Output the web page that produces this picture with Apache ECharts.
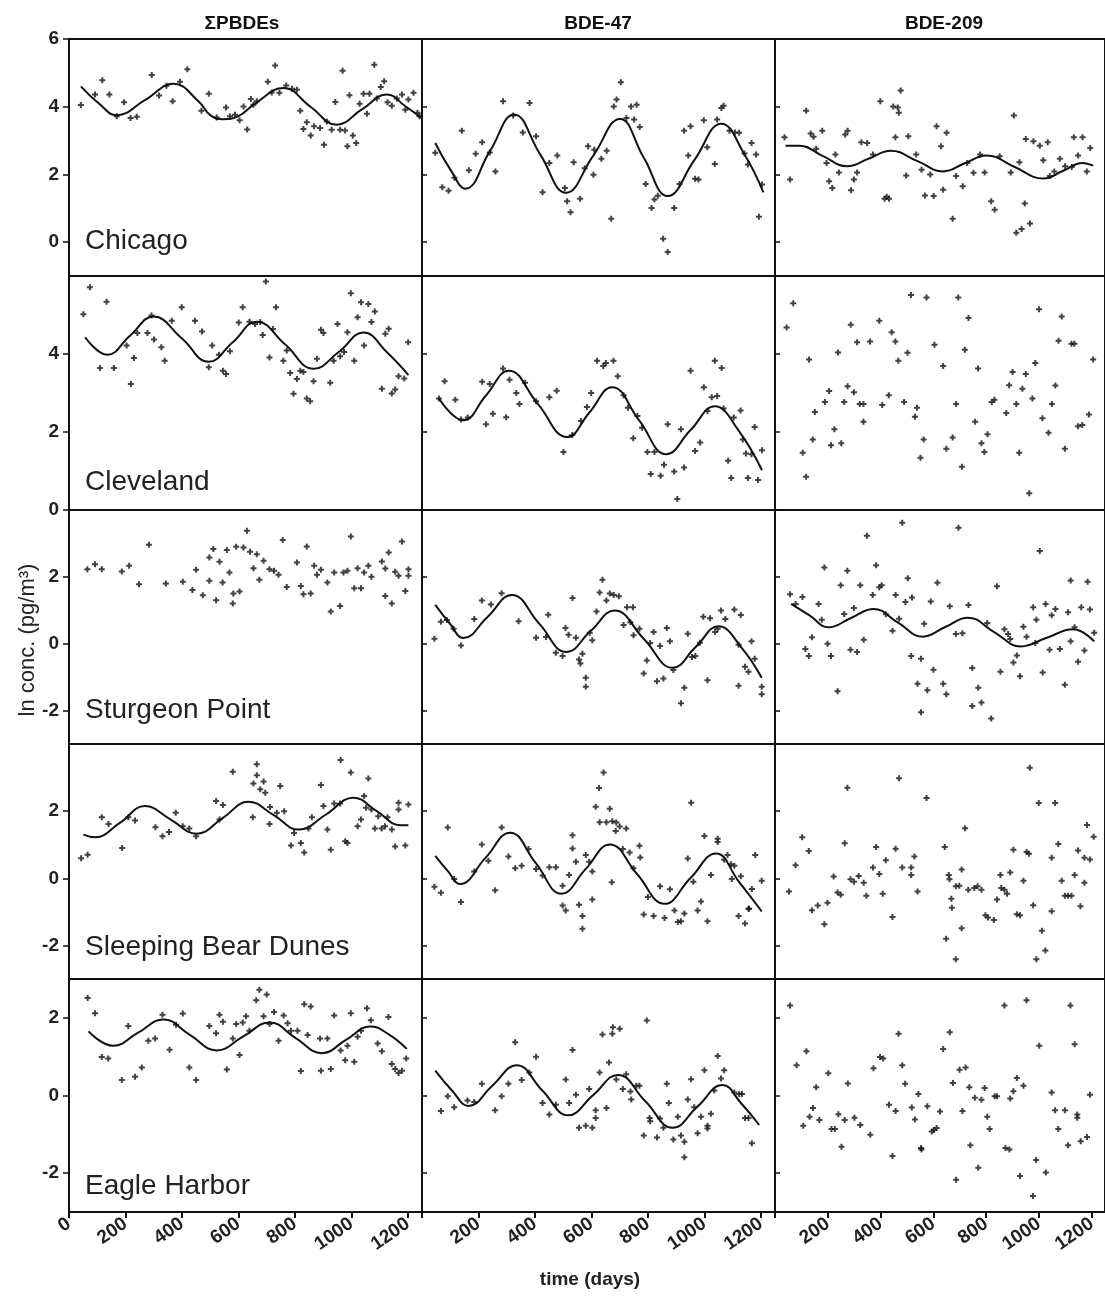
<!DOCTYPE html>
<html>
<head>
<meta charset="utf-8">
<script src="https://cdn.jsdelivr.net/npm/echarts@6/dist/echarts.min.js"></script>
<style>
  html, body { margin: 0; padding: 0; background: #fff; }
  #chart { width: 1105px; height: 1296px; }
</style>
</head>
<body>
<div id="chart"></div>
<script>
// panel titles
const compounds = ['ΣPBDEs', 'BDE-47', 'BDE-209']
const stations = ['Chicago', 'Cleveland', 'Sturgeon Point', 'Sleeping Bear Dunes', 'Eagle Harbor']

// axis ranges and ticks
const yMin = [-1, 0, -3, -3, -3]
const yMax = [6, 6, 4, 4, 3]
const yTicks = [[0, 2, 4, 6], [0, 2, 4], [-2, 0, 2], [-2, 0, 2], [-2, 0, 2]]
const xTicksFirst = [0, 200, 400, 600, 800, 1000, 1200]
const xTicksOther = [200, 400, 600, 800, 1000, 1200]

// ---- Chicago ----
const chiPbde = [[42,4.05],[92,4.36],[118,4.78],[143,4.36],[169,3.72],[195,4.13],[218,3.67],[240,3.7],[293,4.94],[319,4.33],[345,4.62],[367,4.16],[393,4.74],[419,5.11],[469,3.88],[495,4.38],[523,3.68],[556,3.98],[570,3.72],[588,3.76],[604,3.6],[618,4.01],[631,3.33],[644,4.23],[653,4.06],[665,4.16],[704,4.74],[718,4.42],[730,5.22],[745,4.41],[769,4.63],[790,4.53],[807,4.5],[819,3.88],[830,3.34],[842,3.54],[856,3.15],[868,3.42],[889,3.37],[903,2.88],[913,3.56],[930,3.32],[943,4.14],[960,3.32],[969,5.06],[978,3.3],[986,2.83],[993,4.34],[1005,3.15],[1017,2.93],[1029,4.09],[1043,4.38],[1055,3.79],[1064,4.38],[1081,5.24],[1090,4.24],[1104,4.58],[1116,4.75],[1128,4.13],[1143,4.03],[1161,4.24],[1179,4.36],[1191,3.91],[1202,4.21],[1220,4.41],[1234,3.82],[1241,3.72]]
const chiPbdeFit = [[42,4.6],[105,4.1],[169,3.75],[270,4.2],[370,4.68],[460,4.15],[500,3.75],[545,3.63],[600,3.72],[660,4.1],[760,4.55],[855,4.0],[948,3.47],[1037,3.92],[1126,4.36],[1190,4.02],[1246,3.68]]
const chi47 = [[47,2.64],[72,1.62],[94,1.52],[115,1.9],[141,3.29],[166,2.12],[190,2.61],[213,2.95],[240,2.65],[260,2.09],[287,4.16],[323,3.74],[357,3.24],[381,4.11],[404,3.13],[427,1.47],[451,2.34],[479,2.56],[506,1.6],[514,1.21],[526,0.88],[537,2.36],[560,1.28],[576,2.18],[588,2.83],[607,1.99],[610,2.73],[635,2.46],[654,2.7],[670,0.69],[679,4.01],[689,4.21],[704,4.72],[724,3.67],[740,4.01],[751,3.62],[760,4.06],[771,3.4],[792,1.72],[813,1.01],[823,1.26],[835,1.37],[854,0.1],[870,-0.29],[893,1.01],[912,1.72],[928,3.29],[943,2.56],[951,3.42],[967,1.87],[979,1.85],[998,3.6],[1010,2.8],[1037,2.31],[1045,3.62],[1060,3.96],[1068,4.03],[1089,3.29],[1108,3.24],[1123,3.23],[1142,2.62],[1154,2.29],[1167,2.93],[1183,2.59],[1193,0.75],[1204,1.7]]
const chi47Fit = [[47,2.93],[100,2.15],[154,1.58],[240,2.68],[326,3.77],[418,2.6],[510,1.46],[606,2.55],[701,3.64],[785,2.5],[870,1.36],[965,2.43],[1060,3.5],[1142,2.59],[1209,1.47]]
const chi209 = [[36,3.1],[57,1.85],[118,3.88],[135,3.21],[146,3.11],[156,2.76],[179,3.29],[195,2.34],[205,1.8],[217,1.6],[229,2.59],[242,2.06],[266,3.18],[275,3.29],[288,1.53],[299,1.85],[311,2.06],[327,2.95],[349,2.93],[371,2.59],[399,4.16],[415,1.28],[423,1.34],[432,1.28],[448,4.01],[456,3.1],[465,3.98],[469,3.82],[476,4.48],[497,1.97],[505,3.13],[535,2.59],[555,2.14],[568,1.38],[588,2.0],[601,1.36],[612,3.42],[629,2.83],[637,1.55],[650,3.23],[673,0.69],[686,1.95],[711,1.65],[728,2.34],[752,2.05],[777,2.59],[794,2.06],[819,1.21],[832,0.96],[851,2.54],[893,2.06],[905,3.74],[914,0.28],[926,2.36],[934,0.39],[946,1.14],[950,3.05],[966,0.55],[979,2.98],[1003,2.85],[1016,2.42],[1033,2.95],[1041,1.95],[1058,2.09],[1079,2.46],[1099,2.24],[1124,2.22],[1132,3.1],[1148,2.56],[1165,3.1],[1181,2.09],[1194,2.78]]
const chi209Fit = [[40,2.85],[93,2.85],[180,2.55],[274,2.24],[356,2.47],[439,2.7],[538,2.4],[637,2.09],[719,2.33],[801,2.56],[908,2.22],[1016,1.88],[1090,2.1],[1165,2.34],[1205,2.26]]

// ---- Cleveland ----
const clePbde = [[51,5.02],[74,5.71],[110,3.64],[133,5.34],[159,3.64],[204,4.22],[219,3.23],[230,3.9],[242,4.54],[278,4.54],[292,4.99],[301,4.37],[327,4.17],[339,3.83],[364,4.85],[399,5.2],[446,4.85],[471,4.58],[495,3.66],[507,4.22],[531,3.98],[545,3.57],[556,3.49],[570,4.07],[601,4.81],[615,5.2],[639,4.83],[659,4.77],[677,4.82],[686,4.49],[697,5.86],[710,3.91],[722,4.64],[733,5.2],[759,3.83],[771,4.09],[783,3.51],[795,2.98],[807,3.36],[819,3.57],[830,3.54],[842,2.86],[854,2.79],[866,3.3],[878,3.88],[892,4.62],[901,4.54],[925,3.26],[937,3.83],[951,4.77],[960,3.94],[974,4.05],[986,4.56],[998,5.56],[1010,3.83],[1022,4.94],[1034,5.33],[1045,4.22],[1060,5.28],[1071,4.82],[1083,5.09],[1108,3.11],[1120,4.52],[1132,4.65],[1143,2.99],[1155,3.09],[1167,3.43],[1187,3.37],[1201,4.3]]
const clePbdeFit = [[57,4.43],[136,3.98],[216,4.47],[299,4.96],[400,4.4],[494,3.8],[580,4.3],[665,4.83],[765,4.25],[866,3.62],[955,4.05],[1043,4.55],[1125,4.05],[1202,3.46]]
const cle47 = [[60,2.86],[80,3.3],[118,2.83],[138,2.32],[162,2.37],[213,3.29],[227,2.2],[240,3.23],[251,2.47],[287,3.63],[298,2.38],[310,3.34],[334,3.0],[345,2.72],[365,3.26],[404,2.79],[451,2.89],[477,3.06],[501,1.49],[532,1.92],[563,2.28],[584,2.64],[599,3.0],[620,3.83],[642,3.69],[651,3.77],[678,3.83],[693,3.43],[714,2.94],[729,2.62],[748,1.84],[763,2.41],[779,2.11],[798,1.49],[810,0.92],[823,1.49],[845,0.88],[857,1.16],[870,2.2],[893,0.99],[904,0.28],[917,2.07],[928,1.09],[951,3.57],[967,1.51],[985,1.73],[998,3.15],[1011,2.54],[1026,2.89],[1037,3.83],[1045,2.92],[1061,3.64],[1068,2.6],[1084,1.26],[1095,0.82],[1104,2.37],[1128,2.55],[1136,1.81],[1147,1.45],[1154,0.82],[1167,1.43],[1178,2.13],[1190,0.77],[1204,1.53]]
const cle47Fit = [[60,2.86],[146,2.3],[226,2.93],[307,3.57],[410,2.72],[514,1.87],[593,2.5],[673,3.15],[769,2.3],[865,1.43],[951,2.05],[1037,2.66],[1120,2.05],[1204,1.02]]
const cle209 = [[44,4.68],[69,5.3],[105,1.47],[118,0.85],[129,3.86],[143,1.81],[151,2.51],[189,2.77],[205,3.05],[212,1.66],[225,2.07],[239,4.04],[251,1.71],[262,2.77],[275,3.17],[287,4.75],[299,3.02],[311,4.3],[321,2.72],[335,2.72],[335,2.26],[360,4.32],[395,4.85],[406,2.69],[431,2.94],[442,4.56],[456,4.32],[467,3.83],[489,2.77],[502,4.03],[515,5.51],[530,2.39],[538,2.62],[551,1.34],[563,1.81],[574,5.45],[604,4.24],[637,3.69],[649,1.57],[673,1.86],[686,2.72],[694,5.45],[708,1.11],[719,4.11],[733,4.92],[758,2.26],[769,3.63],[782,1.71],[793,1.49],[805,1.94],[821,2.77],[831,2.83],[876,2.49],[887,3.2],[900,3.54],[914,2.72],[925,1.47],[937,3.11],[950,3.49],[963,0.43],[975,2.86],[986,3.77],[1000,5.15],[1013,2.35],[1036,1.98],[1049,2.72],[1062,3.19],[1074,4.34],[1086,4.96],[1098,1.57],[1123,4.26],[1134,4.26],[1148,2.15],[1164,2.18],[1189,2.45],[1205,3.86]]

// ---- Sturgeon Point ----
const stuPbde = [[65,2.23],[92,2.38],[116,2.23],[187,2.16],[213,2.33],[248,1.78],[283,2.96],[343,1.8],[403,1.85],[437,1.61],[450,2.21],[474,1.45],[497,2.58],[497,1.88],[511,2.83],[521,1.3],[533,2.45],[544,1.83],[559,2.8],[568,2.13],[580,1.2],[582,1.5],[592,2.9],[604,1.56],[618,2.88],[630,3.38],[641,2.75],[653,2.26],[665,2.68],[674,1.91],[689,2.48],[710,2.23],[726,2.18],[742,2.06],[757,3.1],[771,1.7],[807,2.43],[821,1.73],[830,1.48],[842,2.91],[856,1.5],[868,2.33],[878,2.06],[892,2.21],[915,1.83],[927,0.96],[939,2.13],[960,1.13],[972,2.13],[986,2.18],[998,3.21],[1010,1.66],[1022,2.26],[1034,1.66],[1045,2.13],[1060,2.33],[1071,2.0],[1108,2.46],[1120,2.25],[1120,1.43],[1132,2.73],[1143,1.2],[1155,2.15],[1167,2.03],[1179,3.06],[1191,1.58],[1202,2.23],[1202,2.03]]
const stu47 = [[44,0.15],[67,0.66],[88,0.71],[112,0.45],[138,-0.05],[185,0.74],[212,1.29],[244,1.17],[282,1.51],[342,0.67],[404,0.18],[439,0.2],[447,0.87],[474,-0.27],[498,-0.37],[508,0.47],[519,0.27],[533,1.37],[545,0.18],[556,-0.47],[561,-0.59],[568,-0.3],[580,-1.02],[580,-1.29],[594,0.33],[603,0.1],[618,0.96],[629,1.53],[639,1.91],[653,1.29],[665,1.5],[679,1.46],[697,1.42],[714,0.56],[726,1.09],[738,0.64],[747,1.09],[749,0.25],[770,0.45],[785,-0.89],[796,-0.5],[808,0.02],[820,0.35],[832,-1.12],[843,-0.07],[855,-1.04],[867,0.47],[878,0.07],[890,-0.79],[917,-1.78],[929,-1.32],[941,0.3],[956,-0.4],[968,-0.37],[984,0.03],[996,0.81],[1011,-1.09],[1020,0.76],[1038,0.35],[1047,0.45],[1059,0.99],[1074,0.74],[1106,1.02],[1121,-0.03],[1121,-1.26],[1129,0.86],[1144,-0.69],[1156,-0.84],[1167,0.07],[1178,-0.45],[1203,-1.29],[1203,-1.51]]
const stu47Fit = [[47,1.16],[97,0.62],[147,0.17],[232,0.8],[318,1.46],[415,0.6],[512,-0.25],[597,0.38],[682,0.99],[785,0.15],[888,-0.72],[969,-0.1],[1050,0.52],[1130,-0.1],[1203,-1.02]]
const stu209 = [[57,1.48],[78,1.19],[104,1.4],[115,-0.16],[128,-0.37],[140,0.19],[165,1.19],[177,0.72],[187,2.28],[199,0.0],[212,-0.37],[237,-1.42],[249,1.75],[262,0.89],[274,2.18],[286,-0.18],[299,1.07],[311,-0.25],[323,1.75],[336,0.12],[348,3.23],[370,1.46],[383,2.35],[395,1.69],[404,1.75],[420,0.88],[445,0.39],[457,1.46],[470,0.75],[482,3.62],[494,1.25],[503,1.96],[516,-0.37],[519,1.38],[540,-1.2],[553,-0.45],[553,-2.05],[565,0.6],[577,-1.39],[590,1.26],[600,-0.78],[615,1.82],[637,-1.2],[649,-1.51],[662,1.12],[685,0.29],[695,3.47],[710,0.31],[733,1.16],[747,-0.73],[747,-1.86],[770,-1.32],[782,-1.76],[804,0.62],[819,-2.24],[841,1.72],[854,-0.84],[869,0.43],[883,0.29],[891,0.14],[903,-0.56],[916,-0.35],[928,-0.97],[941,0.51],[953,0.21],[978,1.09],[986,0.02],[990,0.72],[1003,2.77],[1014,-0.86],[1025,1.19],[1040,-0.18],[1048,0.85],[1062,1.04],[1079,-0.16],[1098,-1.23],[1110,0.94],[1120,1.89],[1120,0.07],[1135,0.49],[1148,-0.54],[1160,1.09],[1172,-0.2],[1184,1.85],[1193,1.02],[1209,0.33]]
const stu209Fit = [[61,1.19],[132,0.84],[202,0.49],[288,0.77],[373,1.04],[466,0.63],[559,0.21],[645,0.5],[730,0.78],[830,0.35],[931,-0.08],[1030,0.18],[1129,0.43],[1209,0.07]]

// ---- Sleeping Bear Dunes ----
const slePbde = [[43,0.6],[66,0.7],[116,1.82],[140,1.62],[188,0.9],[210,1.82],[234,1.72],[306,1.52],[331,1.25],[354,1.38],[378,1.95],[403,1.55],[426,1.48],[450,1.25],[521,2.3],[533,1.75],[545,2.18],[580,3.17],[651,1.82],[653,2.82],[665,3.4],[665,3.07],[677,2.65],[689,2.88],[695,2.55],[710,1.62],[712,2.12],[736,1.95],[748,2.75],[762,2.0],[786,0.98],[797,1.35],[821,1.05],[833,0.77],[848,1.48],[860,1.82],[892,2.78],[901,2.15],[915,1.45],[927,0.85],[939,2.23],[960,2.23],[962,3.52],[978,1.1],[986,1.05],[998,3.15],[1022,1.55],[1034,1.75],[1045,2.45],[1052,2.1],[1060,2.97],[1071,2.05],[1083,1.48],[1095,1.85],[1107,1.48],[1119,1.55],[1128,1.82],[1143,1.45],[1155,0.95],[1167,2.25],[1167,2.05],[1191,0.98],[1202,2.2]]
const slePbdeFit = [[51,1.3],[92,1.22],[180,1.65],[269,2.15],[360,1.75],[452,1.33],[545,1.8],[635,2.28],[725,1.88],[813,1.45],[910,1.9],[1007,2.4],[1090,2.0],[1173,1.58],[1202,1.58]]
const sle47 = [[44,-0.25],[67,-0.43],[91,1.51],[114,-0.02],[138,-0.71],[185,0.2],[212,1.01],[235,0.52],[259,-0.36],[282,1.51],[306,0.65],[330,0.3],[353,0.37],[377,0.87],[404,0.28],[427,0.08],[451,0.33],[474,0.33],[498,-0.22],[498,-0.81],[509,-0.96],[521,0.1],[533,1.28],[533,0.89],[545,0.49],[556,-0.79],[568,-1.12],[568,-1.5],[580,0.69],[592,0.49],[603,0.2],[603,-0.63],[615,2.13],[627,2.69],[629,1.67],[643,3.15],[653,1.67],[665,2.07],[672,-0.12],[674,1.7],[686,1.41],[688,1.66],[700,1.54],[711,0.87],[723,1.48],[735,0.77],[749,0.3],[770,0.97],[773,0.62],[785,-1.08],[800,-0.56],[820,-1.12],[843,-0.24],[859,-1.18],[878,-0.33],[894,-0.96],[906,-1.3],[917,-1.28],[929,-1.05],[941,0.59],[953,2.25],[961,-0.1],[976,-0.96],[988,-0.69],[1000,1.26],[1011,-1.28],[1023,0.1],[1047,1.18],[1047,1.08],[1070,0.55],[1082,0.69],[1094,0.42],[1097,-0.02],[1106,0.37],[1121,-1.12],[1129,0.06],[1144,-1.35],[1156,-0.91],[1158,-0.91],[1168,-0.32],[1180,0.69],[1203,-0.07]]
const sle47Fit = [[47,0.67],[91,0.22],[135,-0.17],[224,0.6],[312,1.36],[403,0.45],[494,-0.46],[580,0.28],[665,1.01],[762,0.12],[859,-0.76],[950,0.0],[1041,0.74],[1122,-0.1],[1203,-0.99]]
const sle209 = [[53,-0.39],[78,0.39],[103,1.22],[128,0.81],[140,-0.95],[162,-0.81],[187,-1.37],[199,-0.73],[222,0.05],[237,-0.42],[249,-0.49],[264,1.04],[274,2.7],[286,-0.03],[299,-0.1],[317,0.07],[336,-0.13],[346,-0.52],[371,0.32],[383,0.93],[395,0.13],[408,-0.46],[420,0.54],[445,-1.15],[457,0.88],[470,2.98],[482,0.32],[516,0.32],[516,0.1],[528,0.65],[540,-0.39],[574,2.39],[643,0.93],[648,-1.8],[658,0.1],[661,-0.03],[668,-0.61],[670,-0.88],[685,-0.24],[685,-2.41],[698,-0.22],[707,0.26],[707,-1.49],[720,1.49],[732,-0.34],[755,-0.29],[767,-0.24],[782,-0.34],[797,-1.1],[807,-1.17],[829,-1.24],[841,-0.63],[854,0.1],[857,-0.29],[869,-0.34],[879,-0.46],[891,0.17],[903,0.85],[916,-1.07],[928,-1.1],[941,-0.07],[953,0.78],[962,0.73],[965,3.29],[978,-0.8],[990,-2.41],[999,2.24],[1011,-1.56],[1024,-2.15],[1048,0.61],[1048,-0.98],[1061,2.24],[1073,1.02],[1086,-0.07],[1098,-0.52],[1110,-0.52],[1123,-0.52],[1135,0.1],[1148,0.83],[1157,-0.83],[1172,-0.13],[1172,0.61],[1182,1.59],[1193,0.56],[1207,1.24]]

// ---- Eagle Harbor ----
const eagPbde = [[66,2.51],[92,2.12],[116,0.99],[139,0.95],[187,0.4],[210,1.79],[234,0.48],[258,0.72],[281,1.41],[305,1.47],[331,2.08],[356,1.18],[379,1.82],[403,2.11],[426,0.72],[450,0.4],[497,1.79],[521,1.6],[533,2.08],[545,1.9],[559,0.67],[580,1.47],[592,1.84],[604,1.04],[615,1.88],[627,2.04],[639,1.67],[663,2.45],[674,2.72],[689,2.04],[700,2.6],[710,1.84],[726,2.15],[742,1.41],[760,2.06],[774,1.86],[786,1.67],[809,1.67],[821,0.63],[833,2.35],[845,1.56],[856,2.29],[889,1.47],[892,0.64],[915,1.47],[927,0.68],[939,2.06],[962,1.16],[978,0.91],[986,1.28],[998,2.12],[1010,0.87],[1022,1.51],[1034,1.67],[1055,2.25],[1069,1.94],[1093,1.34],[1108,1.14],[1131,2.02],[1143,0.81],[1155,0.68],[1167,0.58],[1179,0.64],[1194,0.95]]
const eagPbdeFit = [[69,1.65],[157,1.28],[245,1.62],[334,1.96],[428,1.56],[523,1.16],[617,1.52],[710,1.88],[803,1.48],[895,1.09],[981,1.43],[1067,1.78],[1131,1.58],[1196,1.2]]
const eag47 = [[67,-0.4],[91,-0.02],[114,-0.3],[161,-0.13],[185,-0.17],[212,0.3],[259,-0.38],[282,-0.02],[306,0.3],[330,1.37],[353,0.4],[380,0.59],[404,1.0],[427,-0.19],[451,-0.49],[474,-0.24],[509,0.41],[521,-0.19],[533,1.17],[545,0.02],[556,-0.83],[580,-0.78],[592,0.17],[603,-0.83],[615,-0.38],[615,-0.58],[629,0.59],[639,1.57],[653,-0.32],[662,0.85],[674,1.59],[676,1.76],[688,0.41],[700,1.72],[711,0.17],[723,0.55],[738,0.1],[741,-0.1],[759,0.25],[770,0.25],[785,-1.03],[796,1.93],[806,-0.58],[808,-0.66],[832,-1.08],[843,-0.59],[855,-0.83],[867,0.3],[874,-0.19],[890,-1.13],[906,-0.55],[917,-1.03],[929,-1.19],[929,-1.59],[941,-0.1],[953,0.42],[964,-0.3],[976,-0.97],[988,-0.55],[1000,0.65],[1011,-0.78],[1011,-0.85],[1023,-0.47],[1035,0.13],[1047,1.02],[1059,0.44],[1070,0.65],[1106,0.08],[1123,0.04],[1133,0.04],[1144,-0.58],[1156,-0.58],[1168,-1.23]]
const eag47Fit = [[47,0.64],[106,0.13],[165,-0.27],[250,0.26],[335,0.78],[426,0.13],[518,-0.51],[606,0.01],[694,0.53],[791,-0.15],[888,-0.83],[976,-0.28],[1064,0.27],[1130,-0.2],[1194,-0.76]]
const eag209 = [[57,2.32],[82,0.78],[107,-0.78],[119,1.14],[131,-0.55],[144,-0.32],[156,0.21],[168,-0.63],[202,0.57],[214,-0.86],[227,-0.86],[240,-0.48],[252,-1.32],[264,-0.63],[276,0.31],[301,-0.57],[323,-0.76],[361,-1.01],[373,0.7],[398,0.99],[410,0.95],[432,-0.24],[445,-1.56],[457,-0.4],[468,1.59],[482,0.78],[493,0.3],[518,-0.31],[530,-0.62],[543,0.04],[553,-1.35],[555,-1.39],[577,-0.28],[594,-0.93],[602,-0.89],[612,-0.84],[625,-0.41],[637,1.2],[662,1.63],[674,0.32],[686,-2.17],[699,0.66],[710,-0.4],[722,0.72],[736,0.21],[740,-1.28],[757,-0.06],[770,-1.86],[782,-0.11],[794,0.19],[804,-0.55],[813,-0.86],[832,-0.02],[841,-0.02],[869,2.32],[873,-1.35],[888,-1.39],[891,-0.08],[903,0.11],[916,0.45],[928,-2.07],[941,0.25],[953,2.45],[977,-2.59],[989,-1.66],[1001,1.28],[1026,-1.98],[1048,0.08],[1061,-0.38],[1073,-0.86],[1098,-0.38],[1110,-1.28],[1119,2.32],[1135,1.32],[1145,-0.49],[1145,-0.57],[1158,-1.18],[1182,-1.07],[1193,0.02]]

const points = [
  [chiPbde, chi47, chi209],
  [clePbde, cle47, cle209],
  [stuPbde, stu47, stu209],
  [slePbde, sle47, sle209],
  [eagPbde, eag47, eag209]
]
const fits = [
  [chiPbdeFit, chi47Fit, chi209Fit],
  [clePbdeFit, cle47Fit, null],
  [null, stu47Fit, stu209Fit],
  [slePbdeFit, sle47Fit, null],
  [eagPbdeFit, eag47Fit, null]
]

// layout
const rowTop = [39, 276, 510, 744, 979]
const rowH = [237, 234, 234, 235, 233]
const colLeft = [69, 422, 775]
const colW = [353, 353, 336]
const labelY = [241, 482, 710, 947, 1186]
const font = '"Liberation Sans", Arial, sans-serif'
const ink = '#111'
const plus = 'path://M2,0H4V2H6V4H4V6H2V4H0V2H2Z'

let grid = [], xAxis = [], yAxis = [], series = []
for (let r = 0; r < 5; r++) {
  for (let c = 0; c < 3; c++) {
    let i = r * 3 + c
    let bottom = r === 4
    grid.push({
      left: colLeft[c], top: rowTop[r], width: colW[c], height: rowH[r],
      show: true, borderColor: ink, borderWidth: 2, backgroundColor: 'transparent'
    })
    xAxis.push({
      type: 'value', gridIndex: i, min: 0, max: 1250, position: 'bottom',
      axisLine: { show: false, onZero: false },
      splitLine: { show: false },
      axisTick: {
        show: bottom, inside: false, length: 6,
        lineStyle: { color: ink, width: 2 },
        customValues: xTicksFirst
      },
      axisLabel: {
        show: bottom, rotate: 35, margin: 10,
        color: '#222', fontFamily: font, fontSize: 19, fontWeight: 'bold',
        customValues: c === 0 ? xTicksFirst : xTicksOther,
        formatter: v => String(v)
      }
    })
    yAxis.push({
      type: 'value', gridIndex: i, min: yMin[r], max: yMax[r], position: 'left',
      axisLine: { show: false, onZero: false },
      splitLine: { show: false },
      axisTick: {
        show: true, inside: c > 0, length: c > 0 ? 5 : 6,
        lineStyle: { color: ink, width: 1.5 },
        customValues: yTicks[r]
      },
      axisLabel: {
        show: c === 0, margin: 10,
        color: '#222', fontFamily: font, fontSize: 19, fontWeight: 'bold',
        customValues: yTicks[r]
      }
    })
    series.push({
      type: 'scatter', xAxisIndex: i, yAxisIndex: i,
      symbol: plus, symbolSize: 6,
      itemStyle: { color: ink },
      data: points[r][c]
    })
    if (fits[r][c]) {
      series.push({
        type: 'line', xAxisIndex: i, yAxisIndex: i,
        showSymbol: false, smooth: 0.45,
        lineStyle: { color: ink, width: 2 },
        data: fits[r][c], z: 3
      })
    }
  }
}

let graphic = []
let colCenter = [242, 598, 944]
compounds.forEach((t, c) => {
  graphic.push({
    type: 'text', x: colCenter[c], y: 24,
    style: { text: t, fill: ink, font: 'bold 19px ' + font, textAlign: 'center', textVerticalAlign: 'middle', align: 'center', verticalAlign: 'middle' }
  })
})
stations.forEach((s, r) => {
  graphic.push({
    type: 'text', x: 85, y: labelY[r],
    style: { text: s, fill: '#222', font: '28px ' + font, textAlign: 'left', textVerticalAlign: 'middle', align: 'left', verticalAlign: 'middle' }
  })
})
graphic.push({
  type: 'text', x: 28, y: 640, rotation: Math.PI / 2,
  style: { text: 'ln conc. (pg/m³)', fill: '#222', font: '22px ' + font, textAlign: 'center', textVerticalAlign: 'middle', align: 'center', verticalAlign: 'middle' }
})
graphic.push({
  type: 'text', x: 590, y: 1280,
  style: { text: 'time (days)', fill: '#222', font: 'bold 19px ' + font, textAlign: 'center', textVerticalAlign: 'middle', align: 'center', verticalAlign: 'middle' }
})

let chart = echarts.init(document.getElementById('chart'))
chart.setOption({
  animation: false,
  backgroundColor: '#fff',
  grid: grid,
  xAxis: xAxis,
  yAxis: yAxis,
  series: series,
  graphic: graphic
})
</script>
</body>
</html>
